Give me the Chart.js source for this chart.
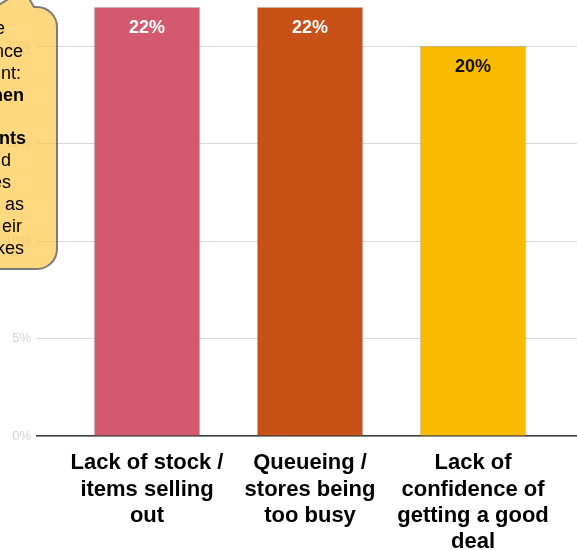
<!DOCTYPE html>
<html>
<head>
<meta charset="utf-8">
<script src="https://cdn.jsdelivr.net/npm/chart.js@4/dist/chart.umd.min.js"></script>
<style>
  html, body { margin: 0; padding: 0; background: #fff; overflow: hidden; }
  #wrap { width: 577px; height: 550px; position: relative; }
</style>
</head>
<body>
<div id="wrap"><canvas id="c" width="577" height="550"></canvas></div>
<script>
// Barriers to shopping in store (share of respondents, %)
const categories = [
  ['Lack of stock /', 'items selling', 'out'],
  ['Queueing /', 'stores being', 'too busy'],
  ['Lack of', 'confidence of', 'getting a good', 'deal']
];
const values = [22, 22, 20];
const barColors = ['#D3596E', '#C75116', '#F9BB00'];
const valueLabelColors = ['#ffffff', '#ffffff', '#111111'];
const yTicks = [0, 5, 10, 15, 20];

// Callout text fragments (right-aligned at their end x, baseline centre y)
const calloutLines = [
  { t: 'e',   x: 5,  y: 29,  b: false },
  { t: 'nce', x: 23, y: 52,  b: false },
  { t: 'nt:', x: 21, y: 74,  b: false },
  { t: 'hen', x: 24, y: 96,  b: true  },
  { t: 'nts', x: 26, y: 139, b: true  },
  { t: 'd',   x: 11, y: 161, b: false },
  { t: 'es',  x: 11, y: 183, b: false },
  { t: 'as',  x: 24, y: 205, b: false },
  { t: 'eir', x: 22, y: 227, b: false },
  { t: 'kes', x: 24, y: 249, b: false }
];

const FONT = "'Liberation Sans', Arial, sans-serif";

// Percentage label inside the top of each bar
const valueLabelPlugin = {
  id: 'valueLabels',
  afterDatasetsDraw(chart) {
    const ctx = chart.ctx;
    const meta = chart.getDatasetMeta(0);
    ctx.save();
    ctx.font = `bold 18px ${FONT}`;
    ctx.textAlign = 'center';
    ctx.textBaseline = 'middle';
    meta.data.forEach((bar, i) => {
      ctx.fillStyle = valueLabelColors[i];
      ctx.fillText(values[i] + '%', bar.x, bar.y + 21);
    });
    ctx.restore();
  }
};

// Speech-bubble note on the left edge
const calloutPlugin = {
  id: 'callout',
  afterDraw(chart) {
    const ctx = chart.ctx;
    const L = -30, T = 7, R = 57, B = 269, r = 20;
    ctx.save();
    ctx.beginPath();
    ctx.moveTo(L, T);
    ctx.lineTo(-5, T);
    ctx.lineTo(24, -10);
    ctx.lineTo(34, T);
    ctx.lineTo(R - r, T);
    ctx.arcTo(R, T, R, T + r, r);
    ctx.lineTo(R, B - r);
    ctx.arcTo(R, B, R - r, B, r);
    ctx.lineTo(L, B);
    ctx.closePath();
    ctx.fillStyle = 'rgba(255, 196, 60, 0.66)';
    ctx.fill();
    ctx.lineWidth = 2;
    ctx.strokeStyle = '#7a7a7a';
    ctx.stroke();

    ctx.fillStyle = '#000';
    ctx.textAlign = 'right';
    ctx.textBaseline = 'middle';
    calloutLines.forEach(l => {
      ctx.font = `${l.b ? 'bold ' : ''}18px ${FONT}`;
      ctx.fillText(l.t, l.x, l.y);
    });
    ctx.restore();
  }
};

new Chart(document.getElementById('c'), {
  type: 'bar',
  data: {
    datasets: [{
      data: values.map((v, i) => ({ x: i, y: v })),
      backgroundColor: barColors,
      borderColor: 'rgba(0,0,0,0.18)',
      borderWidth: 1,
      barThickness: 106
    }]
  },
  options: {
    responsive: false,
    animation: false,
    devicePixelRatio: 1,
    layout: { padding: 0 },
    plugins: {
      legend: { display: false },
      tooltip: { enabled: false }
    },
    scales: {
      x: {
        type: 'linear',
        offset: false,
        bounds: 'data',
        min: -0.675,
        max: 2.638,
        grid: { display: false, drawTicks: false, offset: false },
        border: { display: true, color: '#3c3c3c', width: 1.5 },
        afterBuildTicks: s => { s.ticks = categories.map((c, i) => ({ value: i })); },
        ticks: {
          autoSkip: false,
          maxRotation: 0,
          padding: 14,
          color: '#000',
          font: { family: FONT, size: 22, weight: 'bold', lineHeight: 1.2 },
          callback: v => categories[v]
        },
        afterFit: s => { s.height = 114; s.paddingLeft = 0; s.paddingRight = 0; }
      },
      y: {
        min: 0,
        max: 22.36,
        afterBuildTicks: s => { s.ticks = yTicks.map(v => ({ value: v })); },
        grid: { color: '#dadada', drawTicks: false },
        border: { display: false },
        ticks: {
          padding: 6,
          color: '#d4d4d4',
          font: { family: FONT, size: 13 },
          callback: v => v + '%'
        },
        afterFit: s => { s.width = 37; s.paddingTop = 0; s.paddingBottom = 0; }
      }
    }
  },
  plugins: [valueLabelPlugin, calloutPlugin]
});
</script>
</body>
</html>
